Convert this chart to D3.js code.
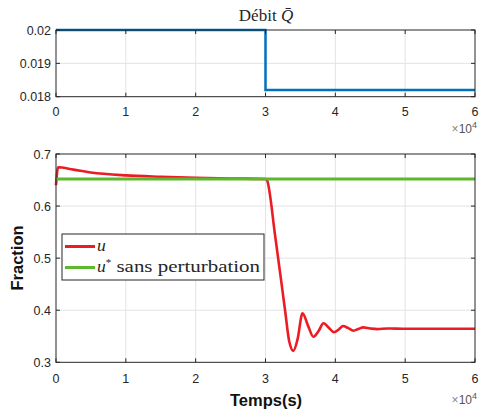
<!DOCTYPE html>
<html><head><meta charset="utf-8">
<script src="https://cdn.jsdelivr.net/npm/d3@7/dist/d3.min.js"></script>
<style>
body{margin:0;background:#fff;}
svg{display:block;}
</style></head><body>
<svg id="c" width="480" height="412"></svg>
<script>
// ---- data ----
const xTicks = [0, 1, 2, 3, 4, 5, 6];            // ×10^4
const qTicks = [0.018, 0.019, 0.02];
const fracTicks = [0.3, 0.4, 0.5, 0.6, 0.7];
const qTime = [0, 3, 6];                           // ×10^4 s
const qValue = [0.02, 0.0182, 0.0182];
const uTime = [0, 0.03, 0.25, 0.5, 1.0, 1.5, 2.0, 2.5, 3.0, 3.02, 3.14, 3.28, 3.34, 3.40, 3.46, 3.53, 3.61, 3.685, 3.76, 3.83, 3.91, 3.98, 4.05, 4.11, 4.18, 4.26, 4.33, 4.40, 4.5, 4.6, 4.75, 5.0, 6.0];
const uValue = [0.640, 0.6745, 0.670, 0.6645, 0.659, 0.6564, 0.6545, 0.653, 0.652, 0.650, 0.541, 0.400, 0.340, 0.322, 0.345, 0.394, 0.370, 0.349, 0.360, 0.375, 0.366, 0.3576, 0.363, 0.3697, 0.366, 0.3607, 0.364, 0.367, 0.365, 0.3638, 0.3648, 0.3645, 0.3645];
const uStarTime = [0, 6];
const uStarValue = [0.652, 0.652];
const legendLabels = ["u", "u* sans perturbation"];

// ---- drawing ----
const SANS = "'Liberation Sans', Arial, Helvetica, sans-serif";
const SERIF = "'Liberation Serif', 'Times New Roman', serif";
const svg = d3.select("#c");
const axisCol = "#262626", gridCol = "#e3e3e3";
const L = 56, R = 475;
const x = d3.scaleLinear().domain([0, 6]).range([L, R]);

function panel(top, bottom, y, yTicks) {
  const g = svg.append("g");
  g.selectAll(".gx").data(xTicks.slice(1, -1)).enter().append("line")
    .attr("x1", d => x(d)).attr("x2", d => x(d)).attr("y1", top).attr("y2", bottom)
    .attr("stroke", gridCol).attr("stroke-width", 1);
  g.selectAll(".gy").data(yTicks.slice(1, -1)).enter().append("line")
    .attr("x1", L).attr("x2", R).attr("y1", d => y(d)).attr("y2", d => y(d))
    .attr("stroke", gridCol).attr("stroke-width", 1);
  return g;
}
function frame(g, top, bottom, y, yTicks, yFmt, xLabY, expY) {
  const ax = g.append("g");
  const tl = 4;
  xTicks.forEach(d => {
    ax.append("line").attr("x1", x(d)).attr("x2", x(d)).attr("y1", bottom).attr("y2", bottom - tl).attr("stroke", axisCol);
    ax.append("line").attr("x1", x(d)).attr("x2", x(d)).attr("y1", top).attr("y2", top + tl).attr("stroke", axisCol);
    ax.append("text").attr("x", x(d)).attr("y", xLabY).attr("text-anchor", "middle")
      .style("font-family", SANS).attr("font-size", 12.5).attr("fill", axisCol).text(d);
  });
  yTicks.forEach(d => {
    ax.append("line").attr("x1", L).attr("x2", L + tl).attr("y1", y(d)).attr("y2", y(d)).attr("stroke", axisCol);
    ax.append("line").attr("x1", R).attr("x2", R - tl).attr("y1", y(d)).attr("y2", y(d)).attr("stroke", axisCol);
    ax.append("text").attr("x", L - 5).attr("y", y(d) + 4.5).attr("text-anchor", "end")
      .style("font-family", SANS).attr("font-size", 12.5).attr("fill", axisCol).text(yFmt(d));
  });
  ax.append("rect").attr("x", L).attr("y", top).attr("width", R - L).attr("height", bottom - top)
    .attr("fill", "none").attr("stroke", axisCol).attr("stroke-width", 1);
  const t = ax.append("text").attr("x", R + 2).attr("y", expY).attr("text-anchor", "end")
    .style("font-family", SANS).attr("font-size", 12).attr("fill", "#555");
  t.append("tspan").attr("fill", "#888").text("×");
  t.append("tspan").text("10");
  t.append("tspan").attr("dy", -5).attr("font-size", 9).text("4");
}

// top panel
const yQ = d3.scaleLinear().domain([0.018, 0.02]).range([96.7, 30]);
const gQ = panel(30, 96.7, yQ, qTicks);
const qPts = qTime.map((t, i) => [t, qValue[i]]);
gQ.append("path").datum(qPts)
  .attr("d", d3.line().x(d => x(d[0])).y(d => yQ(d[1])).curve(d3.curveStepAfter))
  .attr("fill", "none").attr("stroke", "#0072BD").attr("stroke-width", 2.5);
frame(gQ, 30, 96.7, yQ, qTicks, d => String(d), 116, 133);

// title
const title = svg.append("text").attr("x", 266).attr("y", 21).attr("text-anchor", "middle")
  .style("font-family", SERIF).attr("font-size", 17).attr("fill", axisCol);
title.append("tspan").text("Débit ");
title.append("tspan").attr("font-style", "italic").text("Q\u0304");

// bottom panel
const yF = d3.scaleLinear().domain([0.3, 0.7]).range([362.3, 154]);
const gF = panel(154, 362.3, yF, fracTicks);
gF.append("path").datum(uTime.map((t, i) => [t, uValue[i]]))
  .attr("d", d3.line().x(d => x(d[0])).y(d => yF(d[1])).curve(d3.curveMonotoneX))
  .attr("fill", "none").attr("stroke", "#EC1C24").attr("stroke-width", 2.6)
  .attr("stroke-linejoin", "round");
gF.append("path").datum(uStarTime.map((t, i) => [t, uStarValue[i]]))
  .attr("d", d3.line().x(d => x(d[0])).y(d => yF(d[1])))
  .attr("fill", "none").attr("stroke", "#5DB82E").attr("stroke-width", 3);
frame(gF, 154, 362.3, yF, fracTicks, d => String(d), 383, 404);

// legend
const lg = svg.append("g");
lg.append("rect").attr("x", 62).attr("y", 234).attr("width", 202).attr("height", 46)
  .attr("fill", "#fff").attr("stroke", axisCol).attr("stroke-width", 1);
const lcols = ["#EC1C24", "#5DB82E"];
legendLabels.forEach((lab, i) => {
  const yy = 246.5 + i * 21;
  lg.append("line").attr("x1", 65).attr("x2", 95).attr("y1", yy).attr("y2", yy)
    .attr("stroke", lcols[i]).attr("stroke-width", 3);
  const t = lg.append("text").attr("x", 97).attr("y", yy + 4.5)
    .style("font-family", SERIF).attr("font-size", 17.5).attr("fill", axisCol);
  t.append("tspan").attr("font-style", "italic").text("u");
  if (lab.length > 1) {
    t.append("tspan").attr("dy", -6).attr("font-size", 11).text("*");
    const rest = t.append("tspan").attr("dy", 6).text(" " + lab.slice(3));
    const node = rest.node();
    const w = node.getComputedTextLength();
    const start = node.getStartPositionOfChar(0).x;
    const target = 260 - start;
    if (w > 0 && target > w) rest.attr("textLength", target).attr("lengthAdjust", "spacingAndGlyphs");
  }
});

// axis labels
svg.append("text").attr("transform", "translate(23,258) rotate(-90)").attr("text-anchor", "middle")
  .style("font-family", SANS).attr("font-size", 16.5).attr("font-weight", "bold").attr("fill", "#111").text("Fraction");
svg.append("text").attr("x", 266).attr("y", 406).attr("text-anchor", "middle")
  .style("font-family", SANS).attr("font-size", 16.5).attr("font-weight", "bold").attr("fill", "#111").text("Temps(s)");
</script></body></html>
